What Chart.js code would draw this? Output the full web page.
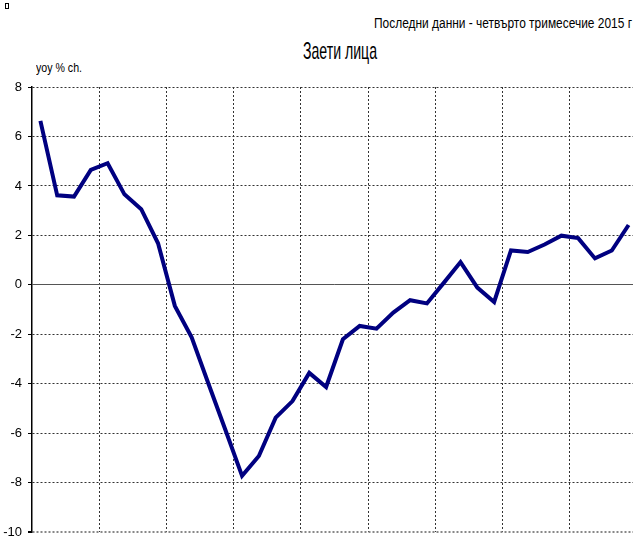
<!DOCTYPE html>
<html>
<head>
<meta charset="utf-8">
<script src="https://cdn.jsdelivr.net/npm/chart.js@4"></script>
<style>
  html, body { margin: 0; padding: 0; overflow: hidden; background: #fff; }
  body { width: 633px; height: 542px; position: relative; font-family: "Liberation Sans", Arial, sans-serif; }
  .box { position: absolute; left: 0; top: 0; width: 637px; height: 546px; }
  .txt { position: absolute; white-space: nowrap; color: #000; line-height: 1; }
  #mark { position: absolute; left: 5px; top: 3px; width: 2px; height: 4px; border: 1px solid #000; }
</style>
</head>
<body>
<div id="mark"></div>
<div class="txt fit" data-w="258" style="left: 374px; top: 16px; font-size: 14px;">Последни данни - четвърто тримесечие 2015 г</div>
<div class="txt fit" data-w="74" style="left: 303px; top: 38.5px; font-size: 24px;">Заети лица</div>
<div class="txt fit" data-w="46" style="left: 36px; top: 61px; font-size: 13px;">yoy % ch.</div>
<div class="box"><canvas id="chart"></canvas></div>
<script>
// тримесечия 2007 - 2015
const quarters = [
  "I.07", "II.07", "III.07", "IV.07",
  "I.08", "II.08", "III.08", "IV.08",
  "I.09", "II.09", "III.09", "IV.09",
  "I.10", "II.10", "III.10", "IV.10",
  "I.11", "II.11", "III.11", "IV.11",
  "I.12", "II.12", "III.12", "IV.12",
  "I.13", "II.13", "III.13", "IV.13",
  "I.14", "II.14", "III.14", "IV.14",
  "I.15", "II.15", "III.15", "IV.15"
];

// заети лица, годишно изменение, %
const employed = [
  6.63, 3.62, 3.57, 4.65,
  4.92, 3.66, 3.06, 1.68,
  -0.85, -2.12, -4.0, -5.85,
  -7.72, -6.92, -5.37, -4.70,
  -3.56, -4.13, -2.20, -1.66,
  -1.77, -1.12, -0.62, -0.75,
  0.08, 0.92, -0.11, -0.69,
  1.39, 1.33, 1.63, 1.99,
  1.89, 1.07, 1.39, 2.42
];

const yMin = -10;
const yMax = 8;
const yStep = 2;

const FONT = "'Liberation Sans', Arial, sans-serif";

// стесняване на надписите (тесен шрифт като в оригинала)
document.querySelectorAll(".fit").forEach((el) => {
  const w = el.getBoundingClientRect().width;
  el.style.transformOrigin = "left top";
  el.style.transform = `scaleX(${el.dataset.w / w})`;
});

new Chart(document.getElementById("chart"), {
  type: "line",
  data: {
    labels: quarters,
    datasets: [
      {
        label: "Заети лица",
        data: employed,
        borderColor: "#000080",
        borderWidth: 4,
        borderCapStyle: "butt",
        borderJoinStyle: "miter",
        pointRadius: 0,
        tension: 0,
        fill: false,
      },
    ],
  },
  options: {
    responsive: true,
    maintainAspectRatio: false,
    animation: false,
    layout: { padding: { top: 87, bottom: 0, left: 0, right: 0 } },
    plugins: {
      legend: { display: false },
      tooltip: { enabled: false },
    },
    scales: {
      x: {
        offset: true,
        ticks: { display: false },
        grid: {
          offset: true,
          drawTicks: false,
          lineWidth: 1,
          // линия на всеки 4 тримесечия
          color: (ctx) => (ctx.index > 0 && ctx.index % 4 === 0 ? "#333" : "rgba(0,0,0,0)"),
        },
        border: { display: false, dash: [2, 2] },
        afterFit: (scale) => { scale.height = 0; },
      },
      y: {
        min: yMin,
        max: yMax,
        ticks: {
          stepSize: yStep,
          color: "#000",
          padding: 6,
          font: { family: FONT, size: 13 },
        },
        grid: {
          drawTicks: true,
          tickLength: 4,
          tickColor: "#000",
          lineWidth: (ctx) => (ctx.tick && ctx.tick.value === yMin ? 2 : 1),
          color: (ctx) => {
            if (!ctx.tick) return "#333";
            if (ctx.tick.value === 0) return "#555";
            if (ctx.tick.value === yMin) return "#888";
            return "#333";
          },
        },
        border: {
          display: true,
          color: "#000",
          width: 1.5,
          dash: (ctx) => (ctx.tick && ctx.tick.value === 0 ? [] : [2, 2]),
        },
        afterFit: (scale) => { scale.width = 32; },
      },
    },
  },
});
</script>
</body>
</html>
